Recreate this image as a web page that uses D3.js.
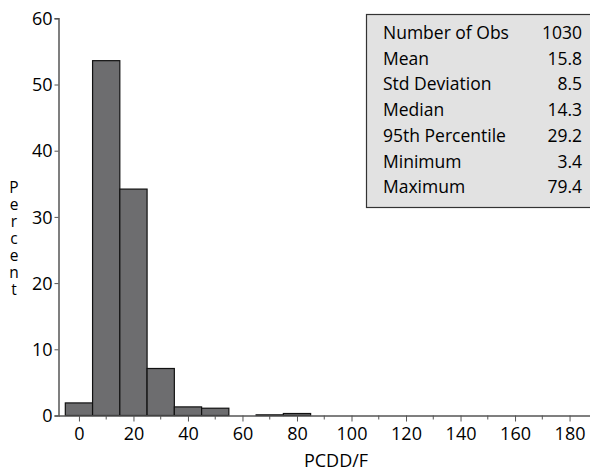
<!DOCTYPE html>
<html>
<head>
<meta charset="utf-8">
<script src="https://cdn.jsdelivr.net/npm/d3@7"></script>
<style>
body { margin: 0; background: #fff; }
text { font-family: "Open Sans", "Noto Sans", sans-serif; fill: #000; }
</style>
</head>
<body>
<svg width="590" height="471"></svg>
<script>
var binMid = [0, 10, 20, 30, 40, 50, 60, 70, 80];
var percent = [1.9, 53.6, 34.2, 7.1, 1.3, 1.1, 0, 0.1, 0.3];
var yTicks = [0, 10, 20, 30, 40, 50, 60];
var xTicks = [0, 20, 40, 60, 80, 100, 120, 140, 160, 180];
var statLabels = ["Number of Obs", "Mean", "Std Deviation", "Median", "95th Percentile", "Minimum", "Maximum"];
var statValues = ["1030", "15.8", "8.5", "14.3", "29.2", "3.4", "79.4"];

var svg = d3.select("svg"),
	width = +svg.attr("width"),
	height = +svg.attr("height");

var x = d3.scaleLinear().domain([-7.5, 187.5]).range([58.5, 590]);
var y = d3.scaleLinear().domain([0, 60]).range([415.5, 18.3]);

// bars
svg.append("g").selectAll("rect").data(binMid).enter()
	.append("rect")
	.attr("x", function(d) { return x(d - 5); })
	.attr("width", function(d) { return x(d + 5) - x(d - 5); })
	.attr("y", function(d, i) { return y(percent[i]); })
	.attr("height", function(d, i) { return y(0) - y(percent[i]); })
	.attr("fill", "#6d6d6f")
	.attr("stroke", "#111")
	.attr("stroke-width", 1.2)
	.style("display", function(d, i) { return percent[i] > 0 ? null : "none"; });

// y axis
var ya = svg.append("g").attr("transform", "translate(" + x(-7.5) + ",0)")
	.call(d3.axisLeft(y).tickValues(yTicks).tickSize(4).tickPadding(2));
ya.select(".domain").attr("stroke", "#555").attr("stroke-width", 1.5);
ya.selectAll(".tick line").attr("stroke", "#555");
ya.selectAll("text").style("font-size", "18px").attr("dy", "0.34em");

// x axis
var xa = svg.append("g").attr("transform", "translate(0," + y(0) + ")")
	.call(d3.axisBottom(x).tickValues(xTicks).tickSize(6).tickSizeOuter(0).tickPadding(6));
xa.select(".domain").attr("stroke", "#555").attr("stroke-width", 1.5);
xa.selectAll(".tick line").attr("stroke", "#555");
xa.selectAll("text").style("font-size", "18px");
xa.selectAll(".minor").data(d3.range(10, 190, 20)).enter()
	.append("line").attr("class", "minor")
	.attr("x1", function(d) { return x(d); }).attr("x2", function(d) { return x(d); })
	.attr("y1", 0).attr("y2", 4).attr("stroke", "#555");

// axis labels
svg.append("text").attr("x", 336).attr("y", 467).attr("text-anchor", "middle")
	.style("font-size", "18px").text("PCDD/F");
svg.append("text").attr("x", 14).attr("y", 176)
	.style("font-size", "15.5px")
	.style("writing-mode", "vertical-lr")
	.style("text-orientation", "upright")
	.style("letter-spacing", "-5px")
	.text("Percent");

// stats box
var box = svg.append("g");
box.append("rect").attr("x", 366.5).attr("y", 14.5).attr("width", 230).attr("height", 193)
	.attr("fill", "#e2e2e2").attr("stroke", "#333").attr("stroke-width", 1.2);
box.selectAll(".lab").data(statLabels).enter()
	.append("text").attr("class", "lab").attr("x", 383)
	.attr("y", function(d, i) { return 39 + i * 25.7; })
	.style("font-size", "17.5px").text(function(d) { return d; });
box.selectAll(".val").data(statValues).enter()
	.append("text").attr("class", "val").attr("x", 582).attr("text-anchor", "end")
	.attr("y", function(d, i) { return 39 + i * 25.7; })
	.style("font-size", "17.5px").text(function(d) { return d; });
</script>
</body>
</html>
